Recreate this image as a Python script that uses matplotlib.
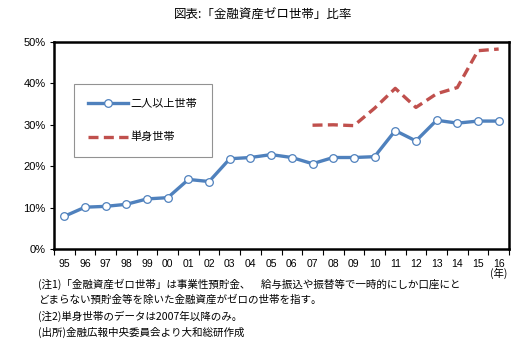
import numpy as np
import matplotlib.pyplot as plt

plt.rcParams['font.family'] = ['Noto Sans CJK JP', 'DejaVu Sans']

years = ['95', '96', '97', '98', '99', '00', '01', '02', '03', '04', '05',
         '06', '07', '08', '09', '10', '11', '12', '13', '14', '15', '16']
multi = [7.9, 10.1, 10.3, 10.8, 12.1, 12.4, 16.8, 16.3, 21.8, 22.1, 22.8,
         22.1, 20.6, 22.1, 22.1, 22.3, 28.6, 26.1, 31.1, 30.4, 30.9, 30.9]
single_years = ['07', '08', '09', '10', '11', '12', '13', '14', '15', '16']
single = [29.9, 30.0, 29.8, 34.0, 38.8, 34.2, 37.5, 39.0, 47.9, 48.3]

fig = plt.figure(figsize=(5.27, 3.52), dpi=100)
ax = fig.add_axes([54/527, 1 - 249/352, 455/527, 207/352])

x = np.arange(len(years))
xs = np.array([years.index(y) for y in single_years])

ax.plot(x, multi, color='#4F81BD', lw=2.4, marker='o', ms=5.5,
        mfc='white', mec='#4F81BD', mew=0.9, label='二人以上世帯')
ax.plot(xs, single, color='#C0504D', lw=2.4, ls=(0, (3, 1.6)),
        label='単身世帯')

ax.set_xlim(-0.5, len(years) - 0.5)
ax.set_ylim(0, 50)
ax.set_yticks(range(0, 51, 10))
ax.set_yticklabels([f'{v}%' for v in range(0, 51, 10)],
                   family=['Liberation Sans', 'DejaVu Sans'], fontsize=8)
ax.set_xticks(x)
ax.set_xticklabels(years, fontsize=7.5, family=['Liberation Sans'])
ax.set_xticks(np.arange(-0.5, len(years)), minor=True)
ax.tick_params(axis='x', which='major', length=0, pad=7)
ax.tick_params(axis='x', which='minor', length=4, width=0.8, direction='out')
ax.tick_params(axis='y', length=3, width=0.8, pad=3)
for s in ax.spines.values():
    s.set_linewidth(1.8)
    s.set_color('black')

leg = ax.legend(loc='upper left', bbox_to_anchor=(20/455, 165/207),
                borderaxespad=0, frameon=True, fancybox=False, edgecolor='#777777',
                fontsize=8, handlelength=3.6, labelspacing=2.1,
                borderpad=1.3, handletextpad=0.2)
leg.get_frame().set_linewidth(0.8)
leg._legend_box.align = 'left'

fig.text(0.5, 1 - 15/352, '図表:「金融資産ゼロ世帯」比率', ha='center', va='center', fontsize=9)
fig.text(499/527, 1 - 273/352, '(年)', ha='center', va='center', fontsize=7.5)

notes = ['(注1)「金融資産ゼロ世帯」は事業性預貯金、　給与振込や振替等で一時的にしか口座にと',
         'どまらない預貯金等を除いた金融資産がゼロの世帯を指す。',
         '(注2)単身世帯のデータは2007年以降のみ。',
         '(出所)金融広報中央委員会より大和総研作成']
for i, t in enumerate(notes):
    fig.text(38/527, 1 - (284 + 16 * i)/352, t, ha='left', va='center', fontsize=7.6)

fig.savefig('out.png', dpi=100)
